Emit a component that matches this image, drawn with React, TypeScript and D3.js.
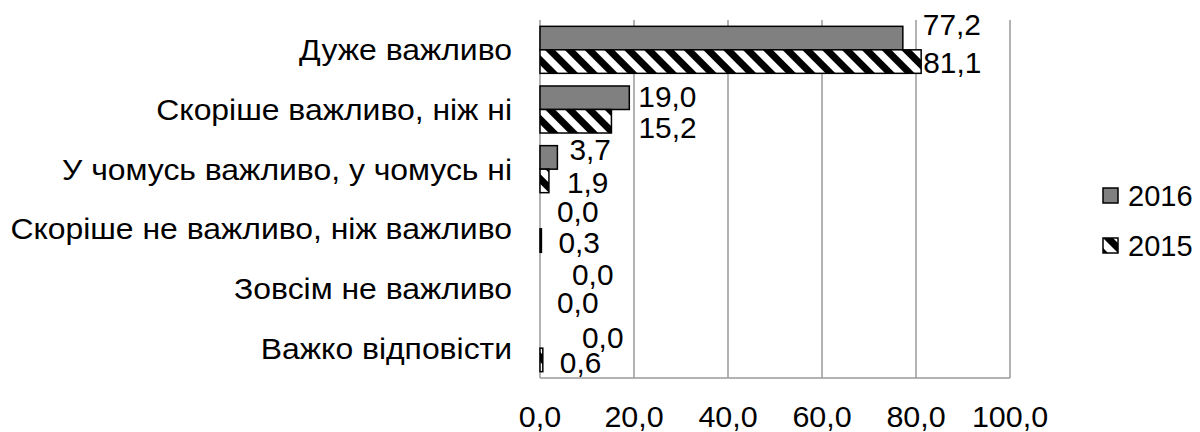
import React from "react";
import * as d3 from "d3";

const categories = [
  "Дуже важливо",
  "Скоріше важливо, ніж ні",
  "У чомусь важливо, у чомусь ні",
  "Скоріше не важливо, ніж важливо",
  "Зовсім не важливо",
  "Важко відповісти",
];
const values2016 = [77.2, 19.0, 3.7, 0.0, 0.0, 0.0];
const values2015 = [81.1, 15.2, 1.9, 0.3, 0.0, 0.6];
const seriesNames = ["2016", "2015"];
const xTicks = [0, 20, 40, 60, 80, 100];

// label nudges (layout only): [dx from bar end, dy baseline from bar centre]
const nudge2016 = [[20, -3], [9, 9], [12, 3], [17, 5], [32, 8], [42, 12]];
const nudge2015 = [[2, 11], [27, 17], [18, 12], [17, 12], [17, 13], [17, 13]];

const W = 1200;
const H = 432;
const FONT = "Arial, 'Liberation Sans', sans-serif";
const FS = 29;

const fmt = (v: number) => v.toFixed(1).replace(".", ",");

export default function App() {
  const x = d3.scaleLinear().domain([0, 100]).range([540, 1010]);
  const y = d3
    .scaleBand<string>()
    .domain(categories)
    .range([20, 378])
    .paddingInner(0.212)
    .paddingOuter(0.106);
  const ys = d3
    .scaleBand<string>()
    .domain(seriesNames)
    .range([0, y.bandwidth()]);

  const series = [
    { name: "2016", values: values2016, fill: "#808080", nudge: nudge2016 },
    { name: "2015", values: values2015, fill: "url(#stripes)", nudge: nudge2015 },
  ];

  const [y0, y1] = y.range();

  return (
    <svg
      width={W}
      height={H}
      style={{ position: "absolute", left: 0, top: 0, background: "#fff" }}
      fontFamily={FONT}
    >
      <defs>
        <pattern
          id="stripes"
          patternUnits="userSpaceOnUse"
          width={14}
          height={14}
          patternTransform="rotate(-45)"
        >
          <rect width={14} height={14} fill="#fff" />
          <rect width={7} height={14} fill="#000" />
        </pattern>
      </defs>
      <rect width={W} height={H} fill="#fff" />

      {/* gridlines */}
      {xTicks.map((t) => (
        <line
          key={"g" + t}
          x1={x(t)}
          x2={x(t)}
          y1={y0}
          y2={y1}
          stroke="#9a9a9a"
          strokeWidth={1.5}
        />
      ))}
      {/* bottom axis */}
      <line x1={x(0)} x2={x(100)} y1={y1} y2={y1} stroke="#9a9a9a" strokeWidth={1.5} />

      {/* bars */}
      {series.map((s) =>
        categories.map((c, i) => {
          const v = s.values[i];
          const w = x(v) - x(0);
          const by = (y(c) as number) + (ys(s.name) as number);
          if (w <= 0) return null;
          return (
            <rect
              key={s.name + c}
              x={x(0)}
              y={by}
              width={w}
              height={ys.bandwidth()}
              fill={s.fill}
              stroke="#000"
              strokeWidth={1.5}
            />
          );
        })
      )}

      {/* value labels */}
      {series.map((s) =>
        categories.map((c, i) => {
          const v = s.values[i];
          const cy = (y(c) as number) + (ys(s.name) as number) + ys.bandwidth() / 2;
          return (
            <text
              key={"l" + s.name + c}
              transform={`translate(${x(v) + s.nudge[i][0]}, ${cy + s.nudge[i][1]}) scale(1.03, 1)`}
              fontSize={FS}
              fill="#000"
            >
              {fmt(v)}
            </text>
          );
        })
      )}

      {/* category labels */}
      {categories.map((c) => (
        <text
          key={"c" + c}
          transform={`translate(512, ${(y(c) as number) + y.bandwidth() / 2 + 10.5}) scale(1.1, 1)`}
          textAnchor="end"
          fontSize={FS}
          fill="#000"
        >
          {c}
        </text>
      ))}

      {/* x tick labels */}
      {xTicks.map((t) => (
        <text
          key={"t" + t}
          transform={`translate(${x(t)}, 427) scale(1.05, 1)`}
          textAnchor="middle"
          fontSize={FS}
          fill="#000"
        >
          {fmt(t)}
        </text>
      ))}

      {/* legend */}
      {series.map((s, i) => (
        <g key={"lg" + s.name} transform={`translate(1103, ${188 + i * 50})`}>
          <rect width={15} height={15} fill={s.fill} stroke="#000" strokeWidth={1.5} />
          <text x={25} y={18} fontSize={FS} fill="#000">
            {s.name}
          </text>
        </g>
      ))}
    </svg>
  );
}
